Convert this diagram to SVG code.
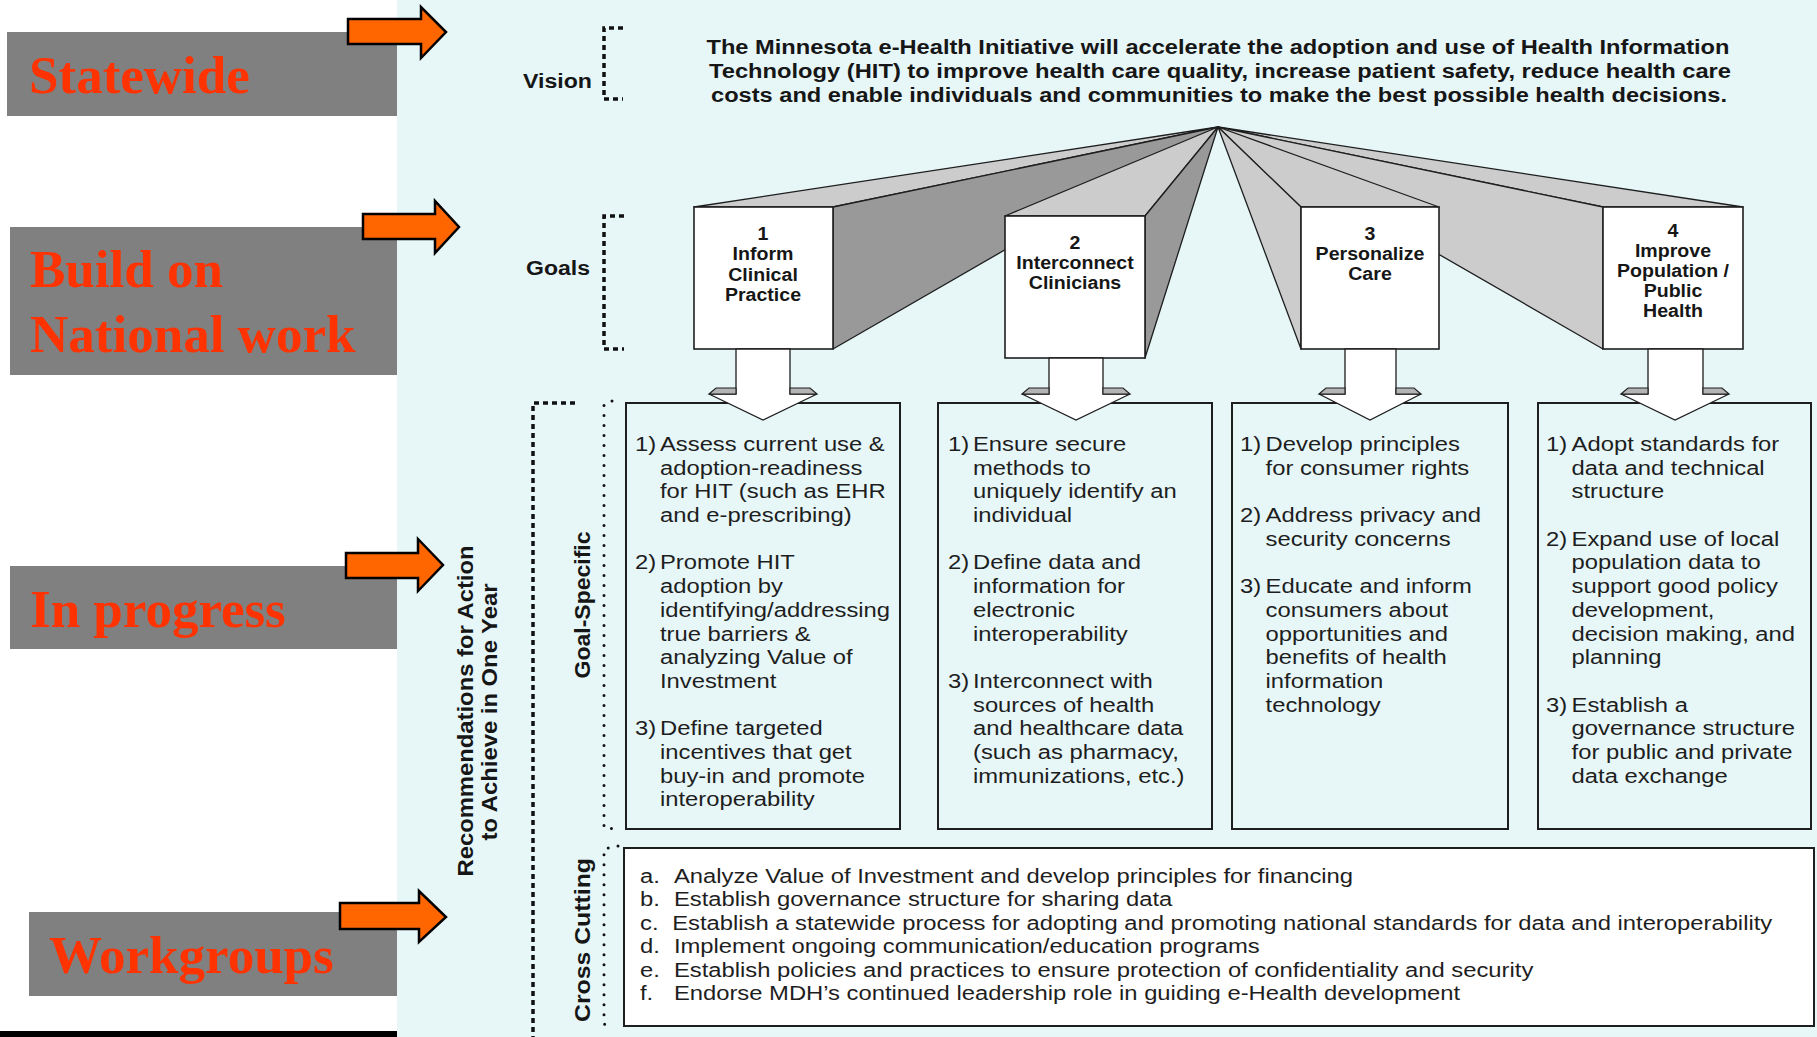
<svg xmlns="http://www.w3.org/2000/svg" width="1817" height="1037" viewBox="0 0 1817 1037">
  <style>
    .tag { fill: #808080; }
    .tagtxt { font-family: "Liberation Serif", "Times New Roman", serif; font-weight: bold; font-size: 53px; fill: #FF3300; }
    .pointer { fill: #FF6600; stroke: #000; stroke-width: 2.5; stroke-linejoin: miter; }
    .hdr { font-family: "Liberation Sans", Arial, sans-serif; font-weight: bold; font-size: 20px; fill: #161616; }
    .side { font-family: "Liberation Sans", Arial, sans-serif; font-weight: bold; font-size: 22px; fill: #161616; }
    .goal { font-family: "Liberation Sans", Arial, sans-serif; font-weight: bold; font-size: 17.5px; fill: #161616; text-anchor: middle; }
    .body { font-family: "Liberation Sans", Arial, sans-serif; font-size: 20px; fill: #1e1e1e; }
    .light { fill: #CCCCCC; stroke: #1e1e1e; stroke-width: 1.3; stroke-linejoin: round; }
    .dark { fill: #999999; stroke: #1e1e1e; stroke-width: 1.3; stroke-linejoin: round; }
    .gbox { fill: #FFFFFF; stroke: #1e1e1e; stroke-width: 1.6; }
    .cbox { fill: none; stroke: #1e1e1e; stroke-width: 2; }
    .xbox { fill: #FFFFFF; stroke: #1e1e1e; stroke-width: 2; }
    .flow { fill: #FFFFFF; stroke: #1e1e1e; stroke-width: 1.3; stroke-linejoin: miter; }
    .ledge { fill: #B4B4B4; stroke: #1e1e1e; stroke-width: 1.1; }
    .bracket { fill: none; stroke: #111; stroke-width: 3.5; stroke-dasharray: 5 4; }
    .dots { fill: none; stroke: #111; stroke-width: 3; stroke-dasharray: 0 10; stroke-linecap: round; }
  </style>

  <!-- page backgrounds -->
  <rect x="0" y="0" width="1817" height="1037" fill="#FFFFFF"/>
  <rect x="397" y="0" width="1420" height="1037" fill="#E7F7F8"/>
  <rect x="0" y="1031" width="397" height="6" fill="#000"/>

  <!-- status tags on the left -->
  <g id="tag-statewide">
    <rect class="tag" x="7" y="32" width="390" height="84"/>
    <text class="tagtxt" x="29" y="93">Statewide</text>
  </g>
  <g id="tag-national">
    <rect class="tag" x="10" y="227" width="387" height="148"/>
    <text class="tagtxt" x="30" y="287">Build on</text>
    <text class="tagtxt" x="30" y="352">National work</text>
  </g>
  <g id="tag-progress">
    <rect class="tag" x="10" y="566" width="387" height="83"/>
    <text class="tagtxt" x="30" y="627">In progress</text>
  </g>
  <g id="tag-workgroups">
    <rect class="tag" x="29" y="912" width="368" height="84"/>
    <text class="tagtxt" x="49" y="973">Workgroups</text>
  </g>

  <!-- row labels and brackets -->
  <g id="row-labels">
    <text class="hdr" x="523" y="88" textLength="69" lengthAdjust="spacingAndGlyphs">Vision</text>
    <path class="bracket" d="M623 28 H604 V99 H623"/>
    <text class="hdr" x="526" y="275" textLength="64" lengthAdjust="spacingAndGlyphs">Goals</text>
    <path class="bracket" d="M624 216 H604 V349 H624"/>
    <path class="bracket" d="M575 403 H533 V1037"/>
    <text class="side" transform="translate(473 711) rotate(-90)" text-anchor="middle" textLength="331" lengthAdjust="spacingAndGlyphs">Recommendations for Action</text>
    <text class="side" transform="translate(497 712) rotate(-90)" text-anchor="middle" textLength="257" lengthAdjust="spacingAndGlyphs">to Achieve in One Year</text>
    <path class="dots" d="M612 401 L604 404 V828 L618 829"/>
    <text class="side" transform="translate(590 605) rotate(-90)" text-anchor="middle" textLength="147" lengthAdjust="spacingAndGlyphs">Goal-Specific</text>
    <path class="dots" d="M618 846 L604 849 V1024 L612 1027"/>
    <text class="side" transform="translate(590 940) rotate(-90)" text-anchor="middle" textLength="164" lengthAdjust="spacingAndGlyphs">Cross Cutting</text>
  </g>

  <!-- vision statement -->
  <g id="vision">
    <text class="hdr" x="1218" y="54" text-anchor="middle" textLength="1023" lengthAdjust="spacingAndGlyphs">The Minnesota e-Health Initiative will accelerate the adoption and use of Health Information</text>
    <text class="hdr" x="1220" y="78" text-anchor="middle" textLength="1022" lengthAdjust="spacingAndGlyphs">Technology (HIT) to improve health care quality, increase patient safety, reduce health care</text>
    <text class="hdr" x="1219" y="102" text-anchor="middle" textLength="1016" lengthAdjust="spacingAndGlyphs">costs and enable individuals and communities to make the best possible health decisions.</text>
  </g>

  <!-- goal blocks fanning out from the vision -->
  <g id="goal-1">
    <polygon class="light" points="1218,127 694,207 833,207"/>
    <polygon class="dark" points="1218,127 833,207 833,349"/>
    <rect class="gbox" x="694" y="207" width="139" height="142"/>
    <g transform="translate(763 0) scale(1.12 1)">
      <text class="goal" x="0" y="240">1</text>
      <text class="goal" x="0" y="260">Inform</text>
      <text class="goal" x="0" y="281">Clinical</text>
      <text class="goal" x="0" y="301">Practice</text>
    </g>
  </g>
  <g id="goal-2">
    <polygon class="light" points="1218,127 1005,216 1145,216"/>
    <polygon class="dark" points="1218,127 1145,216 1145,358"/>
    <rect class="gbox" x="1005" y="216" width="140" height="142"/>
    <g transform="translate(1075 0) scale(1.12 1)">
      <text class="goal" x="0" y="249">2</text>
      <text class="goal" x="0" y="269">Interconnect</text>
      <text class="goal" x="0" y="289">Clinicians</text>
    </g>
  </g>
  <g id="goal-4">
    <polygon class="light" points="1218,127 1603,207 1743,207"/>
    <polygon class="light" points="1218,127 1603,207 1603,349"/>
    <rect class="gbox" x="1603" y="207" width="140" height="142"/>
    <g transform="translate(1673 0) scale(1.12 1)">
      <text class="goal" x="0" y="237">4</text>
      <text class="goal" x="0" y="257">Improve</text>
      <text class="goal" x="0" y="277">Population /</text>
      <text class="goal" x="0" y="297">Public</text>
      <text class="goal" x="0" y="317">Health</text>
    </g>
  </g>
  <g id="goal-3">
    <polygon class="light" points="1218,127 1301,207 1439,207"/>
    <polygon class="light" points="1218,127 1301,207 1301,349"/>
    <rect class="gbox" x="1301" y="207" width="138" height="142"/>
    <g transform="translate(1370 0) scale(1.12 1)">
      <text class="goal" x="0" y="240">3</text>
      <text class="goal" x="0" y="260">Personalize</text>
      <text class="goal" x="0" y="280">Care</text>
    </g>
  </g>

  <!-- goal-specific recommendation boxes -->
  <g id="recs-1">
    <rect class="cbox" x="626" y="403" width="274" height="426"/>
    <g class="body" transform="translate(635 0) scale(1.19 1)">
      <text x="0" y="451">1)</text>
      <text x="21" y="451">Assess current use &amp;</text>
      <text x="21" y="474.7">adoption-readiness</text>
      <text x="21" y="498.4">for HIT (such as EHR</text>
      <text x="21" y="522.1">and e-prescribing)</text>
      <text x="0" y="569.5">2)</text>
      <text x="21" y="569.5">Promote HIT</text>
      <text x="21" y="593.2">adoption by</text>
      <text x="21" y="616.9">identifying/addressing</text>
      <text x="21" y="640.6">true barriers &amp;</text>
      <text x="21" y="664.3">analyzing Value of</text>
      <text x="21" y="688">Investment</text>
      <text x="0" y="735.4">3)</text>
      <text x="21" y="735.4">Define targeted</text>
      <text x="21" y="759.1">incentives that get</text>
      <text x="21" y="782.8">buy-in and promote</text>
      <text x="21" y="806.5">interoperability</text>
    </g>
  </g>
  <g id="recs-2">
    <rect class="cbox" x="938" y="403" width="274" height="426"/>
    <g class="body" transform="translate(948 0) scale(1.19 1)">
      <text x="0" y="451">1)</text>
      <text x="21" y="451">Ensure secure</text>
      <text x="21" y="474.7">methods to</text>
      <text x="21" y="498.4">uniquely identify an</text>
      <text x="21" y="522.1">individual</text>
      <text x="0" y="569.5">2)</text>
      <text x="21" y="569.5">Define data and</text>
      <text x="21" y="593.2">information for</text>
      <text x="21" y="616.9">electronic</text>
      <text x="21" y="640.6">interoperability</text>
      <text x="0" y="688">3)</text>
      <text x="21" y="688">Interconnect with</text>
      <text x="21" y="711.7">sources of health</text>
      <text x="21" y="735.4">and healthcare data</text>
      <text x="21" y="759.1">(such as pharmacy,</text>
      <text x="21" y="782.8">immunizations, etc.)</text>
    </g>
  </g>
  <g id="recs-3">
    <rect class="cbox" x="1232" y="403" width="276" height="426"/>
    <g class="body" transform="translate(1240 0) scale(1.19 1)">
      <text x="0" y="451">1)</text>
      <text x="21.5" y="451">Develop principles</text>
      <text x="21.5" y="474.7">for consumer rights</text>
      <text x="0" y="522.1">2)</text>
      <text x="21.5" y="522.1">Address privacy and</text>
      <text x="21.5" y="545.8">security concerns</text>
      <text x="0" y="593.2">3)</text>
      <text x="21.5" y="593.2">Educate and inform</text>
      <text x="21.5" y="616.9">consumers about</text>
      <text x="21.5" y="640.6">opportunities and</text>
      <text x="21.5" y="664.3">benefits of health</text>
      <text x="21.5" y="688">information</text>
      <text x="21.5" y="711.7">technology</text>
    </g>
  </g>
  <g id="recs-4">
    <rect class="cbox" x="1538" y="403" width="273" height="426"/>
    <g class="body" transform="translate(1546 0) scale(1.19 1)">
      <text x="0" y="451">1)</text>
      <text x="21.5" y="451">Adopt standards for</text>
      <text x="21.5" y="474.7">data and technical</text>
      <text x="21.5" y="498.4">structure</text>
      <text x="0" y="545.8">2)</text>
      <text x="21.5" y="545.8">Expand use of local</text>
      <text x="21.5" y="569.5">population data to</text>
      <text x="21.5" y="593.2">support good policy</text>
      <text x="21.5" y="616.9">development,</text>
      <text x="21.5" y="640.6">decision making, and</text>
      <text x="21.5" y="664.3">planning</text>
      <text x="0" y="711.7">3)</text>
      <text x="21.5" y="711.7">Establish a</text>
      <text x="21.5" y="735.4">governance structure</text>
      <text x="21.5" y="759.1">for public and private</text>
      <text x="21.5" y="782.8">data exchange</text>
    </g>
  </g>

  <!-- cross-cutting recommendations -->
  <g id="recs-cross">
    <rect class="xbox" x="624" y="848" width="1190" height="178"/>
    <g class="body" transform="translate(640 0) scale(1.19 1)">
      <text x="0" y="883">a.</text>
      <text x="28.5" y="883">Analyze Value of Investment and develop principles for financing</text>
      <text x="0" y="906.4">b.</text>
      <text x="28.5" y="906.4">Establish governance structure for sharing data</text>
      <text x="0" y="929.8">c.</text>
      <text x="27" y="929.8">Establish a statewide process for adopting and promoting national standards for data and interoperability</text>
      <text x="0" y="953.2">d.</text>
      <text x="28.5" y="953.2">Implement ongoing communication/education programs</text>
      <text x="0" y="976.6">e.</text>
      <text x="28.5" y="976.6">Establish policies and practices to ensure protection of confidentiality and security</text>
      <text x="0" y="1000">f.</text>
      <text x="28.5" y="1000">Endorse MDH’s continued leadership role in guiding e-Health development</text>
    </g>
  </g>

  <!-- connectors: block arrows from goals into their boxes, and the status pointers -->
  <g id="connectors">
    <polygon class="flow" points="736,349 790,349 790,394 817,394 763,420 709,394 736,394"/>
    <polygon class="ledge" points="709,394 716,388 736,388 736,394"/>
    <polygon class="ledge" points="790,388 810,388 817,394 790,394"/>

    <polygon class="flow" points="1049,358 1103,358 1103,394 1130,394 1076,420 1022,394 1049,394"/>
    <polygon class="ledge" points="1022,394 1029,388 1049,388 1049,394"/>
    <polygon class="ledge" points="1103,388 1123,388 1130,394 1103,394"/>

    <polygon class="flow" points="1345,349 1396,349 1396,394 1421,394 1370,420 1319,394 1345,394"/>
    <polygon class="ledge" points="1319,394 1326,388 1345,388 1345,394"/>
    <polygon class="ledge" points="1396,388 1414,388 1421,394 1396,394"/>

    <polygon class="flow" points="1648,349 1703,349 1703,394 1729,394 1675,420 1621,394 1648,394"/>
    <polygon class="ledge" points="1621,394 1628,388 1648,388 1648,394"/>
    <polygon class="ledge" points="1703,388 1722,388 1729,394 1703,394"/>

    <polygon class="pointer" points="348,19 421,19 421,7 446,32 421,58 421,44 348,44"/>
    <polygon class="pointer" points="363,214 435,214 435,201 459,227 435,253 435,239 363,239"/>
    <polygon class="pointer" points="346,553 418,553 418,539 443,565 418,591 418,578 346,578"/>
    <polygon class="pointer" points="340,903 419,903 419,891 446,917 419,942 419,929 340,929"/>
  </g>
</svg>
